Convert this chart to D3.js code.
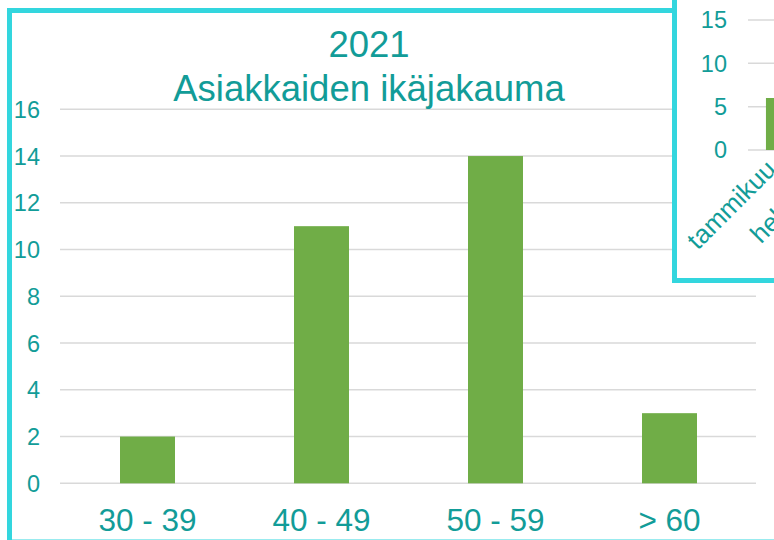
<!DOCTYPE html>
<html>
<head>
<meta charset="utf-8">
<script src="https://cdn.jsdelivr.net/npm/d3@7"></script>
<style>
  html, body { margin: 0; padding: 0; background: #fff; overflow: hidden; }
  svg { display: block; font-family: "Liberation Sans", Arial, sans-serif; }
</style>
</head>
<body>
<div id="chart"></div>
<script>
// main chart data
var categories = ["30 - 39", "40 - 49", "50 - 59", "> 60"];
var values = [2, 11, 14, 3];
var yTicks = [0, 2, 4, 6, 8, 10, 12, 14, 16];
var titleLines = ["2021", "Asiakkaiden ikäjakauma"];

// the other chart peeking in at the top right
var insetCategories = ["tammikuu", "helmikuu"];
var insetValues = [6, 5];
var insetTicks = [0, 5, 10, 15];

var W = 774, H = 540;
var teal = "#129c98";
var frame = "#33d6de";
var green = "#70ad47";
var grid = "#d9d9d9";

var svg = d3.select("#chart").append("svg")
  .attr("width", W)
  .attr("height", H);

// main frame
svg.append("rect")
  .attr("x", 9.5).attr("y", 10.5)
  .attr("width", 900).attr("height", 531.5)
  .attr("fill", "#fff")
  .attr("stroke", frame)
  .attr("stroke-width", 5);

var x = d3.scaleBand()
  .domain(categories)
  .range([60.5, 756.5])
  .paddingInner(0.684)
  .paddingOuter(0.342);

var y = d3.scaleLinear()
  .domain([0, 16])
  .range([483.3, 109.3]);

svg.append("g").selectAll("line")
  .data(yTicks)
  .enter().append("line")
  .attr("x1", 60).attr("x2", 756)
  .attr("y1", function(d) { return y(d); })
  .attr("y2", function(d) { return y(d); })
  .attr("stroke", grid)
  .attr("stroke-width", 1.5);

svg.append("g").selectAll("text")
  .data(yTicks)
  .enter().append("text")
  .attr("x", 40)
  .attr("y", function(d) { return y(d); })
  .attr("dy", "0.36em")
  .attr("text-anchor", "end")
  .attr("fill", teal)
  .style("font-size", "23.5px")
  .text(function(d) { return d; });

svg.append("g").selectAll("rect")
  .data(values)
  .enter().append("rect")
  .attr("x", function(d, i) { return x(categories[i]); })
  .attr("y", function(d) { return y(d); })
  .attr("width", x.bandwidth())
  .attr("height", function(d) { return y(0) - y(d); })
  .attr("fill", green);

svg.append("g").selectAll("text")
  .data(categories)
  .enter().append("text")
  .attr("x", function(d) { return x(d) + x.bandwidth() / 2; })
  .attr("y", 530.5)
  .attr("text-anchor", "middle")
  .attr("fill", teal)
  .style("font-size", "31.5px")
  .text(function(d) { return d; });

svg.append("text")
  .attr("text-anchor", "middle")
  .attr("fill", teal)
  .style("font-size", "36.5px")
  .selectAll("tspan")
  .data(titleLines)
  .enter().append("tspan")
  .attr("x", 369)
  .attr("y", function(d, i) { return 57 + i * 43.5; })
  .text(function(d) { return d; });

// inset chart on top
var inset = svg.append("g");

inset.append("rect")
  .attr("x", 674.5).attr("y", -20)
  .attr("width", 300).attr("height", 300.5)
  .attr("fill", "#fff")
  .attr("stroke", frame)
  .attr("stroke-width", 5);

var ix = d3.scaleBand()
  .domain(insetCategories)
  .range([748, 748 + 57 * insetCategories.length])
  .paddingInner(0.63)
  .paddingOuter(0.315);

var iy = d3.scaleLinear()
  .domain([0, 15])
  .range([150, 20]);

inset.append("g").selectAll("line")
  .data(insetTicks)
  .enter().append("line")
  .attr("x1", 748).attr("x2", 900)
  .attr("y1", function(d) { return iy(d); })
  .attr("y2", function(d) { return iy(d); })
  .attr("stroke", grid)
  .attr("stroke-width", 1.5);

inset.append("g").selectAll("text")
  .data(insetTicks)
  .enter().append("text")
  .attr("x", 727)
  .attr("y", function(d) { return iy(d); })
  .attr("dy", "0.36em")
  .attr("text-anchor", "end")
  .attr("fill", teal)
  .style("font-size", "23.5px")
  .text(function(d) { return d; });

inset.append("g").selectAll("rect")
  .data(insetValues)
  .enter().append("rect")
  .attr("x", function(d, i) { return ix(insetCategories[i]); })
  .attr("y", function(d) { return iy(d); })
  .attr("width", ix.bandwidth())
  .attr("height", function(d) { return iy(0) - iy(d); })
  .attr("fill", green);

inset.append("g").selectAll("text")
  .data(insetCategories)
  .enter().append("text")
  .attr("text-anchor", "end")
  .attr("fill", teal)
  .style("font-size", "26px")
  .attr("transform", function(d) {
    return "translate(" + (ix(d) + ix.bandwidth() / 2 + 1) + ",171) rotate(-45)";
  })
  .text(function(d) { return d; });
</script>
</body>
</html>
